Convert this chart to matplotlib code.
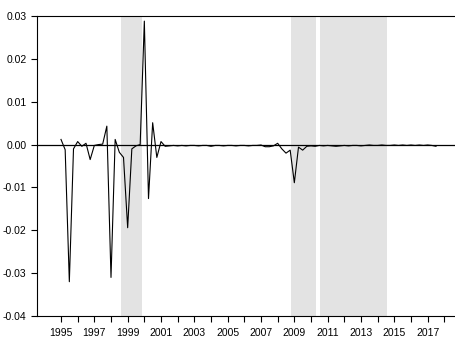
import numpy as np
import matplotlib
matplotlib.use("Agg")
import matplotlib.pyplot as plt

plt.rcParams['font.family'] = ['Liberation Sans Narrow', 'Liberation Sans', 'DejaVu Sans']

# quarterly series, 1995Q1 .. 2017Q3
values = [
    0.0012, -0.0012, -0.0320, -0.0010, 0.0007, -0.0004, 0.0003, -0.0035,
    -0.0002, 0.0000, 0.0001, 0.0043, -0.0310, 0.0012, -0.0018, -0.0030,
    -0.0194, -0.0010, -0.0003, 0.0000, 0.0288, -0.0126, 0.0051, -0.0030,
    0.0007, -0.0004, -0.0003, -0.0002, -0.0003, -0.0002, -0.0003, -0.0002,
    -0.0002, -0.0003, -0.0002, -0.0002, -0.0004, -0.0002, -0.0002, -0.0003,
    -0.0002, -0.0002, -0.0003, -0.0002, -0.0002, -0.0003, -0.0002, -0.0002,
    -0.0001, -0.0005, -0.0005, -0.0003, 0.0003, -0.0010, -0.0020, -0.0013,
    -0.0089, -0.0006, -0.0013, -0.0004, -0.0003, -0.0004, -0.0002, -0.0003,
    -0.0002, -0.0003, -0.0004, -0.0003, -0.0002, -0.0003, -0.0002, -0.0002,
    -0.0003, -0.0002, -0.0001, -0.0002, -0.0002, -0.0001, -0.0002, -0.0002,
    -0.0001, -0.0002, -0.0001, -0.0002, -0.0001, -0.0002, -0.0001, -0.0002,
    -0.0001, -0.0002, -0.0004,
]
start_year = 1995.0
dates = start_year + np.arange(len(values)) / 4.0

shaded = [(1998.6, 1999.85), (2008.8, 2010.3), (2010.55, 2014.55)]

yticks = [-0.04, -0.03, -0.02, -0.01, 0.00, 0.01, 0.02, 0.03]
ytick_labels = ['-0.04', '-0.03', '-0.02', '-0.01', '0.00', '0.01', '0.02', '0.03']
xtick_years = list(range(1995, 2018, 2))

fig = plt.figure(figsize=(4.55, 3.37), dpi=100)
ax = fig.add_axes([37/455, 21/337, 418/455, 300/337])

for a, b in shaded:
    ax.axvspan(a, b, color='#e3e3e3', lw=0, zorder=0)

ax.axhline(0, color='black', lw=0.9, zorder=1)
ax.plot(dates, values, color='black', lw=0.8, zorder=2)

ax.set_xlim(1993.56, 2018.64)
ax.set_ylim(-0.04, 0.03)
ax.set_yticks(yticks)
ax.set_yticklabels(ytick_labels)
ax.set_xticks(xtick_years)
ax.set_xticklabels([str(y) for y in xtick_years])
ax.set_xticks(range(1995, 2019), minor=True)

ax.tick_params(axis='both', which='both', direction='out', length=4.5, width=0.8,
               labelsize=7.5, color='black')
ax.tick_params(axis='x', pad=4.5)
ax.tick_params(axis='y', pad=3)

ax.spines['right'].set_visible(False)
for s in ['left', 'top', 'bottom']:
    ax.spines[s].set_linewidth(0.8)

fig.savefig('out.png', dpi=100)
